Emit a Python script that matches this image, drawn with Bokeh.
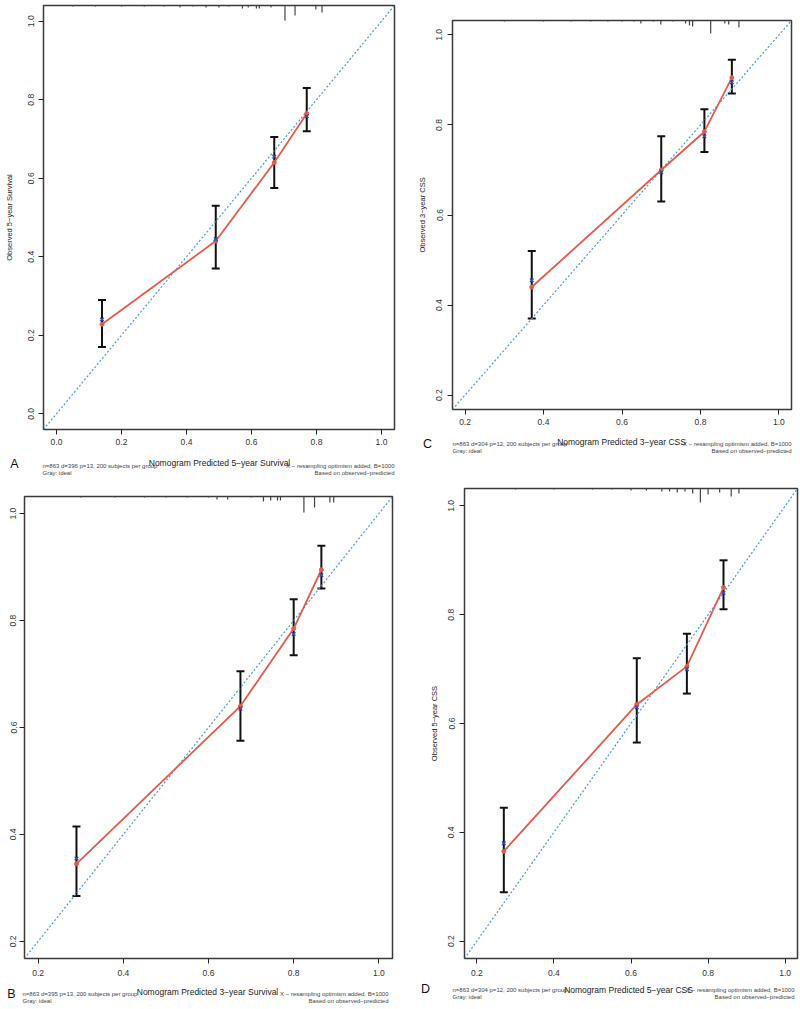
from bokeh.plotting import figure
from bokeh.layouts import row, column
from bokeh.models import (Range1d, FixedTicker, PrintfTickFormatter,
                          Whisker, TeeHead, ColumnDataSource)
from bokeh.core.properties import value
from bokeh.embed import file_html
from bokeh.resources import INLINE

# ---------------- data ----------------
# Panel A: 5-year overall survival
a_pred = [0.14, 0.49, 0.67, 0.77]
a_obs = [0.228, 0.44, 0.64, 0.765]
a_corr = [0.24, 0.445, 0.655, 0.758]
a_low = [0.17, 0.37, 0.575, 0.72]
a_high = [0.29, 0.53, 0.705, 0.83]
a_rug_x = [0.05, 0.12, 0.2, 0.27, 0.33, 0.38, 0.42, 0.46, 0.5, 0.53, 0.572, 0.59,
           0.615, 0.624, 0.66, 0.703, 0.734, 0.798, 0.817]
a_rug_n = [1, 1, 1, 1, 1, 2, 1, 2, 2, 1, 3, 2, 3, 3, 2, 15, 10, 4, 7]

# Panel B: 3-year overall survival
b_pred = [0.29, 0.675, 0.80, 0.865]
b_obs = [0.345, 0.64, 0.785, 0.895]
b_corr = [0.355, 0.635, 0.775, 0.885]
b_low = [0.285, 0.575, 0.735, 0.86]
b_high = [0.415, 0.705, 0.84, 0.94]
b_rug_x = [0.3, 0.38, 0.45, 0.5, 0.55, 0.6, 0.62, 0.645, 0.7, 0.729, 0.746,
           0.762, 0.769, 0.824, 0.849, 0.885, 0.894]
b_rug_n = [1, 1, 1, 1, 1, 1, 3, 3, 1, 5, 4, 4, 4, 16, 11, 6, 6]

# Panel C: 3-year CSS
c_pred = [0.37, 0.70, 0.81, 0.88]
c_obs = [0.44, 0.70, 0.785, 0.905]
c_corr = [0.455, 0.695, 0.775, 0.895]
c_low = [0.37, 0.63, 0.74, 0.87]
c_high = [0.52, 0.775, 0.835, 0.945]
c_rug_x = [0.3, 0.4, 0.47, 0.52, 0.564, 0.6, 0.63, 0.648, 0.68, 0.699, 0.73,
           0.762, 0.772, 0.78, 0.826, 0.862, 0.872, 0.898]
c_rug_n = [1, 1, 1, 1, 1, 1, 1, 3, 1, 4, 1, 3, 5, 6, 13, 3, 4, 7]

# Panel D: 5-year CSS
d_pred = [0.27, 0.615, 0.745, 0.84]
d_obs = [0.365, 0.635, 0.705, 0.85]
d_corr = [0.38, 0.63, 0.70, 0.84]
d_low = [0.29, 0.565, 0.655, 0.81]
d_high = [0.445, 0.72, 0.765, 0.90]
d_rug_x = [0.3, 0.4, 0.5, 0.55, 0.6, 0.64, 0.68, 0.7, 0.72, 0.74, 0.76, 0.78,
           0.8, 0.83, 0.86, 0.88]
d_rug_n = [1, 1, 1, 1, 2, 2, 3, 3, 4, 3, 5, 14, 6, 4, 8, 5]

ticks_a = [0.0, 0.2, 0.4, 0.6, 0.8, 1.0]
ticks_bcd = [0.2, 0.4, 0.6, 0.8, 1.0]

sub_a = ("n=863 d=396 p=13, 200 subjects per group", "Gray: ideal")
sub_b = ("n=863 d=395 p=13, 200 subjects per group", "Gray: ideal")
sub_cd = ("n=863 d=304 p=12, 200 subjects per group", "Gray: ideal")
sub_right = ("X \u2212 resampling optimism added, B=1000",
             "Based on observed\u2212predicted")

FONT = "Liberation Sans"
RED = "#E35B4B"
BLUE = "#2E4FB0"
DIAG = "#4A96E4"


def panel(width, height, borders, lims, ticks, pred, obs, corr, low, high,
          rug_x, rug_n, ylabel, geo):
    bl, br, bt, bb = borders
    lo, hi = lims
    fh = height - bt - bb
    ppy = (hi - lo) / fh

    p = figure(width=width, height=height, output_backend="svg",
               toolbar_location=None, x_range=Range1d(lo, hi),
               y_range=Range1d(lo, hi), min_border_left=bl,
               min_border_right=br, min_border_top=bt, min_border_bottom=bb,
               frame_align=False)
    p.background_fill_color = "white"
    p.border_fill_color = "white"
    p.outline_line_color = "#3a3a3a"
    p.outline_line_width = 1.5
    p.xgrid.visible = False
    p.ygrid.visible = False

    for ax in (p.xaxis[0], p.yaxis[0]):
        ax.ticker = FixedTicker(ticks=ticks)
        ax.formatter = PrintfTickFormatter(format="%.1f")
        ax.axis_line_color = None
        ax.major_tick_line_color = "#222222"
        ax.major_tick_out = 5
        ax.major_tick_in = 0
        ax.minor_tick_line_color = None
        ax.major_label_text_font = FONT
        ax.major_label_text_font_size = "8.5px"
        ax.major_label_text_color = "#333333"
    p.xaxis[0].major_label_standoff = geo["xstd"]
    p.yaxis[0].major_label_standoff = geo["ystd"]
    p.yaxis[0].major_label_orientation = "vertical"
    if ylabel:
        p.yaxis[0].axis_label = ylabel
        p.yaxis[0].axis_label_text_font = FONT
        p.yaxis[0].axis_label_text_font_style = "normal"
        p.yaxis[0].axis_label_text_color = "#222222"
        p.yaxis[0].axis_label_text_font_size = "7.5px"
        p.yaxis[0].axis_label_standoff = geo["ylab_std"]

    # ideal line
    p.line(x=[lo, hi], y=[lo, hi], line_color=DIAG, line_width=1.2,
           line_dash="2 2")

    # rug (distribution of predictions) hanging from the top
    rug_len = [n * geo["rug_unit"] * ppy for n in rug_n]
    p.segment(x0=rug_x, y0=[hi] * len(rug_x), x1=rug_x,
              y1=[hi - r for r in rug_len], line_color="#444444",
              line_width=1.2)

    src = ColumnDataSource(dict(x=pred, obs=obs, corr=corr, low=low, high=high))
    wh = Whisker(base="x", upper="high", lower="low", source=src,
                 line_color="#111111", line_width=2,
                 upper_head=TeeHead(size=8, line_color="#111111", line_width=2),
                 lower_head=TeeHead(size=8, line_color="#111111", line_width=2))
    p.add_layout(wh)
    p.line("x", "obs", source=src, line_color=RED, line_width=1.8)
    p.scatter("x", "obs", source=src, marker="circle", size=4,
              fill_color=RED, line_color=RED)
    p.scatter("x", "corr", source=src, marker="x", size=5,
              line_color=BLUE, line_width=1.5)
    return p


def caption(width, height, xlabel, letter, sub_left, geo):
    c = figure(width=width, height=height, output_backend="svg",
               toolbar_location=None, x_range=Range1d(0, width),
               y_range=Range1d(height, 0), x_axis_location=None,
               y_axis_location=None, min_border=0, frame_align=False)
    c.outline_line_color = None
    c.grid.visible = False
    c.background_fill_color = "white"
    c.border_fill_color = "white"

    def t(txt, x, y, align, size, color, style="normal"):
        c.text(x=[x], y=[y], text=[txt], text_align=align,
               text_baseline="middle", text_font=value(FONT),
               text_font_size=size, text_color=color, text_font_style=style)

    ls = geo["sub_size"]
    t(sub_left[0], geo["subl_x"], geo["sub_y"], "left", ls, "#444444")
    t(sub_left[1], geo["subl_x"], geo["sub_y"] + 7, "left", ls, "#444444")
    t(sub_right[0], geo["subr_x"], geo["sub_y"], "right", ls, "#444444")
    t(sub_right[1], geo["subr_x"], geo["sub_y"] + 7, "right", ls, "#444444")
    t(xlabel, geo["xl_x"], geo["xl_y"], "center", "8.5px", "#222222")
    t(letter, geo["let_x"], geo["let_y"], "center", "12.5px", "#111111")
    return c


pa = panel(400, 450, (43, 6, 5, 21), (-0.04, 1.04), ticks_a,
           a_pred, a_obs, a_corr, a_low, a_high, a_rug_x, a_rug_n,
           "Observed 5\u2212year Survival",
           dict(xstd=4, ystd=4, ylab_std=12, rug_unit=1.0))
ca = caption(400, 38, "Nomogram Predicted 5\u2212year Survival", "A", sub_a,
             dict(sub_size="6px", subl_x=42, subr_x=394, sub_y=15,
                  xl_x=219, xl_y=12, let_x=14, let_y=13))

pb = panel(400, 492, (24, 8, 8, 22), (0.168, 1.032), ticks_bcd,
           b_pred, b_obs, b_corr, b_low, b_high, b_rug_x, b_rug_n,
           None, dict(xstd=6, ystd=3, ylab_std=7, rug_unit=1.0))
cb = caption(400, 29, "Nomogram Predicted 3\u2212year Survival", "B", sub_b,
             dict(sub_size="6px", subl_x=22, subr_x=388, sub_y=13,
                  xl_x=207, xl_y=11, let_x=11, let_y=13))

pc = panel(400, 430, (52, 9, 20, 21), (0.168, 1.032), ticks_bcd,
           c_pred, c_obs, c_corr, c_low, c_high, c_rug_x, c_rug_n,
           "Observed 3\u2212year CSS",
           dict(xstd=4, ystd=5, ylab_std=7, rug_unit=1.0))
cc = caption(400, 50, "Nomogram Predicted 3\u2212year CSS", "C", sub_cd,
             dict(sub_size="6px", subl_x=52, subr_x=391, sub_y=13,
                  xl_x=221, xl_y=11, let_x=27, let_y=13))

pd_ = panel(400, 500, (64, 3, 8, 22), (0.168, 1.032), ticks_bcd,
            d_pred, d_obs, d_corr, d_low, d_high, d_rug_x, d_rug_n,
            "Observed 5\u2212year CSS",
            dict(xstd=6, ystd=5, ylab_std=7, rug_unit=1.0))
cd = caption(400, 29, "Nomogram Predicted 5\u2212year CSS", "D", sub_cd,
             dict(sub_size="6px", subl_x=52, subr_x=394, sub_y=9,
                  xl_x=228, xl_y=9, let_x=25, let_y=8))

layout = row(column(pa, ca, pb, cb), column(pc, cc, pd_, cd))
open("out.html", "w").write(file_html(layout, INLINE))
